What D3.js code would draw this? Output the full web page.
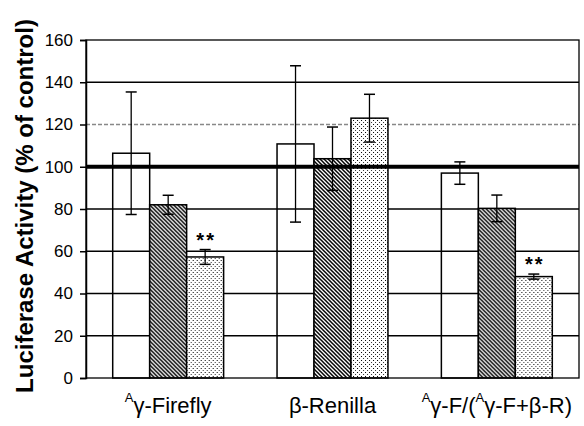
<!DOCTYPE html>
<html>
<head>
<meta charset="utf-8">
<script src="https://cdn.jsdelivr.net/npm/d3@7"></script>
<style>
  body { margin: 0; background: #fff; }
  text { font-family: Arial, "Liberation Sans", sans-serif; }
</style>
</head>
<body>
<div id="chart"></div>
<script>
// values
var groups = ["Firefly", "Renilla", "Ratio"]
var series = ["control", "hatched", "dotted"]
var means = [
  [106.4, 82, 57.3],
  [110.8, 103.8, 123],
  [97, 80.3, 48]
]
var errors = [
  [29, 4.5, 3.5],
  [37, 15, 11.3],
  [5.3, 6.3, 1.2]
]
var stars = [
  ["", "", "**"],
  ["", "", ""],
  ["", "", "**"]
]
var yTicks = [0, 20, 40, 60, 80, 100, 120, 140, 160]

var W = 584, H = 426
var margin = {left: 86, right: 5, top: 40, bottom: 48}

var svg = d3.select('#chart').append('svg')
  .attr('width', W).attr('height', H)

var defs = svg.append('defs')
var hatch = defs.append('pattern')
  .attr('id', 'hatch').attr('patternUnits', 'userSpaceOnUse')
  .attr('width', 4).attr('height', 4)
hatch.append('rect').attr('width', 4).attr('height', 4).attr('fill', '#fff')
hatch.append('path').attr('d', 'M-1,-1 L5,5 M-1,3 L1,5 M3,-1 L5,1')
  .attr('stroke', '#000').attr('stroke-width', 1.5)

var dots = defs.append('pattern')
  .attr('id', 'dots').attr('patternUnits', 'userSpaceOnUse')
  .attr('width', 4).attr('height', 4)
dots.append('rect').attr('width', 4).attr('height', 4).attr('fill', '#fff')
dots.append('rect').attr('x', 0).attr('y', 0).attr('width', 1).attr('height', 1).attr('fill', '#000')
dots.append('rect').attr('x', 2).attr('y', 2).attr('width', 1).attr('height', 1).attr('fill', '#333')

var fills = {control: 'none', hatched: 'url(#hatch)', dotted: 'url(#dots)'}

var x0 = d3.scaleBand().domain(groups)
  .range([margin.left, W - margin.right])
  .paddingInner(0.325).paddingOuter(0.1625)
var x1 = d3.scaleBand().domain(series).range([0, x0.bandwidth()])
var y = d3.scaleLinear().domain([0, 160]).range([H - margin.bottom, margin.top])

// gridlines
svg.append('g').selectAll('line')
  .data(yTicks.filter(function(t) { return t > 0 && t < 160 && t != 100 }))
  .join('line')
  .attr('x1', margin.left).attr('x2', W - margin.right)
  .attr('y1', function(d) { return y(d) }).attr('y2', function(d) { return y(d) })
  .attr('stroke', function(d) { return d == 120 ? '#888' : '#000' })
  .attr('stroke-dasharray', function(d) { return d == 120 ? '4,2' : null })
  .attr('stroke-width', 1.3)

// bars
var gs = svg.append('g').selectAll('g').data(groups).join('g')
  .attr('transform', function(g) { return 'translate(' + x0(g) + ',0)' })

gs.each(function(g, gi) {
  var sel = d3.select(this)
  series.forEach(function(s, si) {
    var v = means[gi][si], e = errors[gi][si]
    var bx = x1(s), bw = x1.bandwidth()
    sel.append('rect')
      .attr('x', bx).attr('width', bw)
      .attr('y', y(v)).attr('height', y(0) - y(v))
      .attr('fill', fills[s]).attr('stroke', '#000').attr('stroke-width', 1.5)
    var cx = bx + bw / 2
    sel.append('line').attr('x1', cx).attr('x2', cx)
      .attr('y1', y(v + e)).attr('y2', y(v - e)).attr('stroke', '#000').attr('stroke-width', 1.3)
    ;[v + e, v - e].forEach(function(t) {
      sel.append('line').attr('x1', cx - 5.5).attr('x2', cx + 5.5)
        .attr('y1', y(t)).attr('y2', y(t)).attr('stroke', '#000').attr('stroke-width', 1.5)
    })
    if (stars[gi][si]) {
      sel.append('text').attr('x', cx + 1).attr('y', y(v + e) - 3)
        .attr('text-anchor', 'middle').attr('font-size', 20).attr('font-weight', 'bold')
        .attr('letter-spacing', 2)
        .text(stars[gi][si])
    }
  })
})

// thick 100% line on top
svg.append('line')
  .attr('x1', margin.left).attr('x2', W - margin.right)
  .attr('y1', y(100)).attr('y2', y(100))
  .attr('stroke', '#000').attr('stroke-width', 4)

// frame
svg.append('rect')
  .attr('x', margin.left).attr('y', margin.top)
  .attr('width', W - margin.right - margin.left).attr('height', y(0) - margin.top)
  .attr('fill', 'none').attr('stroke', '#000').attr('stroke-width', 1.3)

// y axis
var yAxis = svg.append('g')
  .attr('transform', 'translate(' + margin.left + ',0)')
  .call(d3.axisLeft(y).tickValues(yTicks).tickSize(6).tickPadding(7))
yAxis.select('.domain').attr('stroke-width', 1.5)
yAxis.selectAll('line').attr('stroke-width', 1.5)
yAxis.selectAll('text').attr('font-size', 17).attr('fill', '#000')
  .style('font-family', 'Arial, "Liberation Sans", sans-serif')

// y title
svg.append('text')
  .attr('transform', 'translate(33,206) rotate(-90)')
  .attr('text-anchor', 'middle').attr('font-size', 24).attr('font-weight', 'bold')
  .text('Luciferase Activity (% of control)')

// x labels
var xl = svg.append('g')
var lab0 = xl.append('text').attr('x', x0('Firefly') + x0.bandwidth() / 2).attr('y', 413)
  .attr('text-anchor', 'middle').attr('font-size', 22)
lab0.append('tspan').attr('font-size', 13).attr('dy', -11).text('A')
lab0.append('tspan').attr('dy', 11).text('γ-Firefly')

xl.append('text').attr('x', x0('Renilla') + x0.bandwidth() / 2).attr('y', 413)
  .attr('text-anchor', 'middle').attr('font-size', 22)
  .text('β-Renilla')

var lab2 = xl.append('text').attr('x', x0('Ratio') + x0.bandwidth() / 2).attr('y', 413)
  .attr('text-anchor', 'middle').attr('font-size', 22)
lab2.append('tspan').attr('font-size', 13).attr('dy', -11).text('A')
lab2.append('tspan').attr('dy', 11).text('γ-F/(')
lab2.append('tspan').attr('font-size', 13).attr('dy', -11).text('A')
lab2.append('tspan').attr('dy', 11).text('γ-F+β-R)')
</script>
</body>
</html>
